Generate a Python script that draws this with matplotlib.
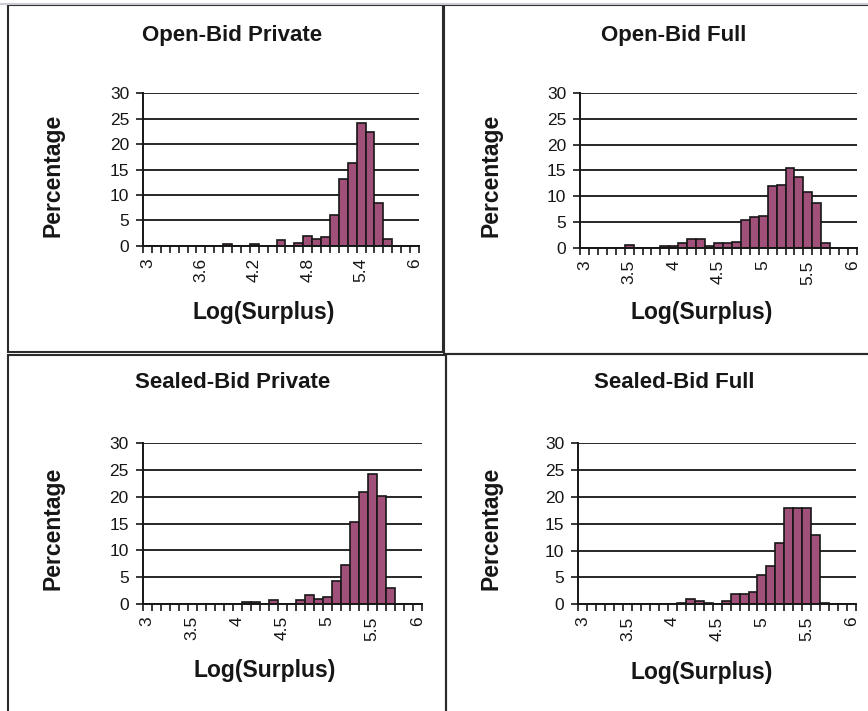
import matplotlib
matplotlib.use("Agg")
import matplotlib.pyplot as plt
from matplotlib.patches import Rectangle
from matplotlib.lines import Line2D

W, H = 868, 711
plt.rcParams['font.family'] = ['Liberation Sans', 'DejaVu Sans']

# histogram bins of log surplus (category axis)
bins = [3.0, 3.1, 3.2, 3.3, 3.4, 3.5, 3.6, 3.7, 3.8, 3.9,
        4.0, 4.1, 4.2, 4.3, 4.4, 4.5, 4.6, 4.7, 4.8, 4.9,
        5.0, 5.1, 5.2, 5.3, 5.4, 5.5, 5.6, 5.7, 5.8, 5.9, 6.0]

# percentage of auctions per bin
open_private = [0, 0, 0, 0, 0, 0, 0, 0, 0, 0.3,
                0, 0, 0.3, 0, 0, 1.1, 0, 0.5, 2.0, 1.3,
                1.8, 6.1, 13.2, 16.2, 24.2, 22.3, 8.5, 1.4, 0, 0, 0]
open_full = [0, 0, 0, 0, 0, 0.6, 0, 0, 0, 0.3,
             0.3, 0.9, 1.6, 1.6, 0.3, 0.9, 0.9, 1.2, 5.3, 6.0,
             6.2, 11.9, 12.2, 15.4, 13.7, 10.8, 8.7, 0.9, 0, 0, 0]
sealed_private = [0, 0, 0, 0, 0, 0, 0, 0, 0, 0,
                  0, 0.3, 0.3, 0, 0.6, 0, 0, 0.6, 1.6, 0.9,
                  1.3, 4.3, 7.2, 15.2, 20.8, 24.3, 20.1, 2.9, 0, 0, 0]
sealed_full = [0, 0, 0, 0, 0, 0, 0, 0, 0, 0,
               0, 0.3, 0.9, 0.6, 0.3, 0, 0.6, 1.9, 1.9, 2.2,
               5.5, 7.1, 11.4, 17.9, 17.9, 17.9, 13.0, 0.3, 0, 0, 0]

titles = ["Open-Bid Private", "Open-Bid Full", "Sealed-Bid Private", "Sealed-Bid Full"]
series = [open_private, open_full, sealed_private, sealed_full]
label_every = [6, 5, 5, 5]
y_ticks = [0, 5, 10, 15, 20, 25, 30]

# layout in pixels: plot area (l, t, r, b), title, xlabel and ylabel centres
layout = [
    dict(ax=(143, 93.3, 419, 245.7), title=(232, 35), xlab=(264, 312), ylab=(53, 175)),
    dict(ax=(580, 93.3, 857, 247.7), title=(674, 35), xlab=(702, 313), ylab=(491, 175)),
    dict(ax=(142.7, 443.3, 421.7, 603.7), title=(233, 383), xlab=(265, 671), ylab=(53, 528)),
    dict(ax=(578.3, 443.3, 856, 604.3), title=(674, 383), xlab=(702, 672), ylab=(491, 528)),
]
frames = [(8, 5, 443, 352), (444, 5, 872, 354), (8, 355, 446, 716), (446, 354, 872, 716)]

bar_color = '#A1507A'
ink = '#161616'


def fx(x):
    return x / W


def fy(y):
    return 1 - y / H


fig = plt.figure(figsize=(W / 100, H / 100), dpi=100)

# thin light strip along the top edge
fig.add_artist(Line2D([0, 1], [fy(4), fy(4)], transform=fig.transFigure,
                      color='#c9ccd4', lw=1.5))

for (l, t, r, b) in frames:
    fig.add_artist(Rectangle((fx(l), fy(b)), fx(r) - fx(l), fy(t) - fy(b),
                             transform=fig.transFigure, fill=False,
                             edgecolor='#2b2b2b', lw=1.5))

for vals, title, step, pos in zip(series, titles, label_every, layout):
    l, t, r, b = pos['ax']
    ax = fig.add_axes([fx(l), fy(b), fx(r) - fx(l), fy(t) - fy(b)])
    x = list(range(len(bins)))
    ax.bar(x, vals, width=1.0, color=bar_color, edgecolor=ink, linewidth=1.2, zorder=3)

    ax.set_xlim(-0.5, len(bins) - 0.5)
    ax.set_ylim(0, 30)
    ax.set_yticks(y_ticks)
    ax.set_yticklabels([str(v) for v in y_ticks], fontsize=12.5, color=ink)
    ax.yaxis.grid(True, color=ink, lw=1.3, zorder=0)
    ax.set_axisbelow(True)

    ax.set_xticks(x[::step])
    ax.set_xticklabels([f"{v:g}" for v in bins[::step]], rotation=90, fontsize=12.5,
                       color=ink)
    ax.set_xticks([v - 0.5 for v in x] + [len(bins) - 0.5], minor=True)
    ax.tick_params(axis='x', which='major', length=0, pad=9)
    ax.tick_params(axis='x', which='minor', length=5, width=1.2, color=ink, direction='out')
    ax.tick_params(axis='y', length=5, width=1.2, color=ink, pad=5)

    for s in ['top', 'right']:
        ax.spines[s].set_visible(False)
    for s in ['left', 'bottom']:
        ax.spines[s].set_color(ink)
        ax.spines[s].set_linewidth(1.4)
        ax.spines[s].set_zorder(4)

    fig.text(fx(pos['title'][0]), fy(pos['title'][1]), title, fontsize=16,
             fontweight='bold', color=ink, ha='center', va='center')
    fig.text(fx(pos['xlab'][0]), fy(pos['xlab'][1]), "Log(Surplus)", fontsize=16.5,
             fontweight='bold', color=ink, ha='center', va='center')
    fig.text(fx(pos['ylab'][0]), fy(pos['ylab'][1]), "Percentage", fontsize=16.5,
             fontweight='bold', color=ink, ha='center', va='center', rotation=90)

fig.savefig("out.png", dpi=100)
